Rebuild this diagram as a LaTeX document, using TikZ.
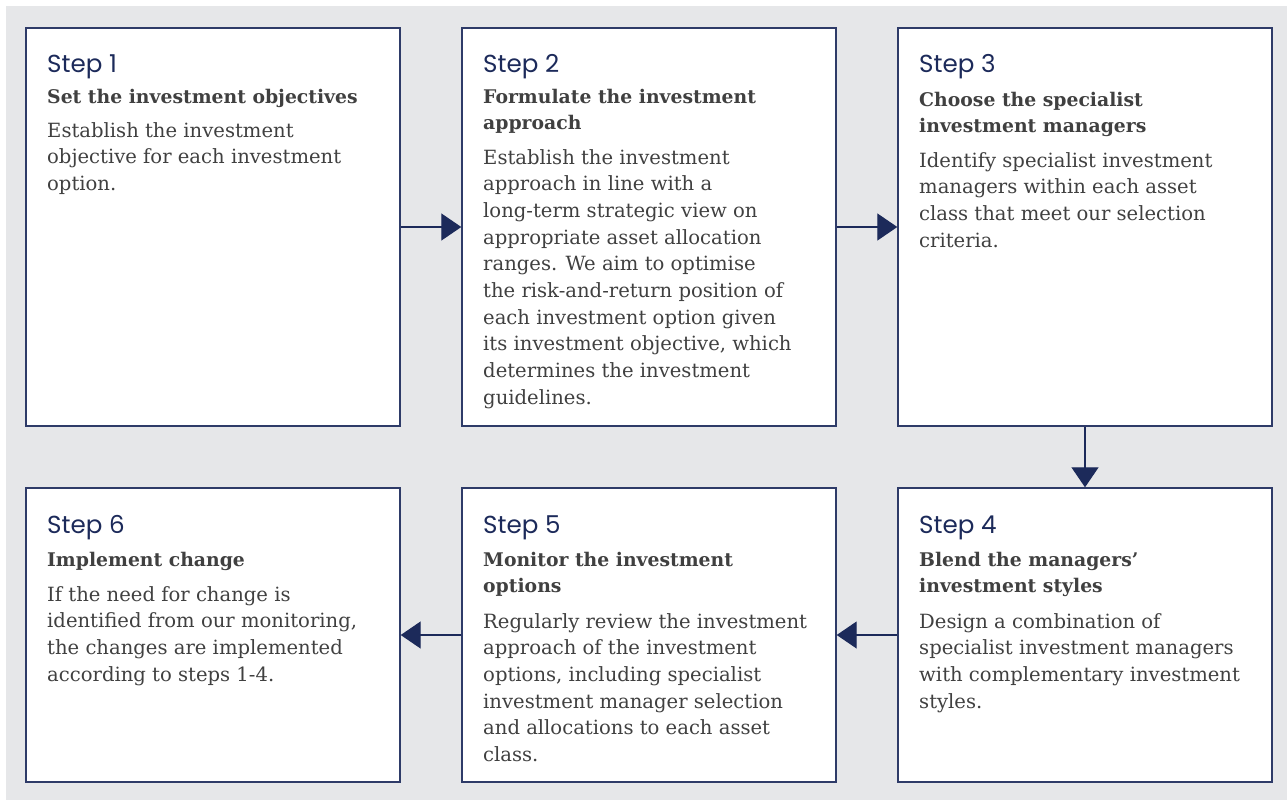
\documentclass[tikz,border=0pt]{standalone}
\usepackage{fontspec}
\usetikzlibrary{arrows.meta}
\setmainfont{DejaVu Serif}
\newfontfamily\stepfont{Poppins}
\newfontfamily\bodyfont{DejaVu Serif}
\definecolor{bggray}{HTML}{E6E7E9}
\definecolor{navy}{HTML}{1C2A5A}
\definecolor{boxline}{HTML}{2E3B68}
\definecolor{txt}{HTML}{404040}
\newcommand{\mylines}[2]{\vtop{\hsize=600pt\parindent=0pt\parskip=0pt\baselineskip=#1pt\lineskiplimit=-100pt\lineskip=0pt\leavevmode #2\par}}
\tikzset{
  box/.style={draw=boxline, line width=1.4pt, fill=white, minimum width=374pt, inner sep=0pt},
  steplabel/.style={anchor=base west, inner sep=0pt, text=navy, font=\stepfont\fontsize{24.6}{28}\selectfont},
  titlelabel/.style={anchor=base west, inner sep=0pt, text=txt, font=\bodyfont\bfseries\fontsize{18.8}{26}\selectfont},
  bodylabel/.style={anchor=base west, inner sep=0pt, text=txt, font=\bodyfont\fontsize{19.6}{26.7}\selectfont},
  arr/.style={draw=navy, line width=1.3pt, -{Triangle[length=20pt,width=27pt]}, shorten >=0pt}
}
\begin{document}
\begin{tikzpicture}[x=1pt,y=-1pt]
\useasboundingbox (0,0) rectangle (1287,800);
\fill[bggray] (6,6) rectangle (1287,800);
% boxes
\node[box, minimum height=398pt] (b1) at (213,227) {};
\node[box, minimum height=398pt] (b2) at (649,227) {};
\node[box, minimum height=398pt] (b3) at (1085,227) {};
\node[box, minimum height=294pt] (b6) at (213,635) {};
\node[box, minimum height=294pt] (b5) at (649,635) {};
\node[box, minimum height=294pt] (b4) at (1085,635) {};
% arrows
\draw[arr] (b1.east) -- (b2.west);
\draw[arr] (b2.east) -- (b3.west);
\draw[arr] (b3.south) -- (b4.north);
\draw[arr] (b4.west) -- (b5.east);
\draw[arr] (b5.west) -- (b6.east);
% box 1
\node[steplabel] (s1) at (47,73) {Step 1};
\node[titlelabel] (t1) at (47,103) {\mylines{26}{Set the investment objectives}};
\node[bodylabel] (d1) at (47,137) {\mylines{26.7}{Establish the investment\\objective for each investment\\option.}};
% box 2
\node[steplabel] (s2) at (483,73) {Step 2};
\node[titlelabel] (t2) at (483,103) {\mylines{26}{Formulate the investment\\approach}};
\node[bodylabel] (d2) at (483,164) {\mylines{26.7}{Establish the investment\\approach in line with a\\long-term strategic view on\\appropriate asset allocation\\ranges. We aim to optimise\\the risk-and-return position of\\each investment option given\\its investment objective, which\\determines the investment\\guidelines.}};
% box 3
\node[steplabel] (s3) at (919,73) {Step 3};
\node[titlelabel] (t3) at (919,106) {\mylines{26}{Choose the specialist\\investment managers}};
\node[bodylabel] (d3) at (919,167) {\mylines{26.7}{Identify specialist investment\\managers within each asset\\class that meet our selection\\criteria.}};
% box 6
\node[steplabel] (s6) at (47,533) {Step 6};
\node[titlelabel] (t6) at (47,566) {\mylines{26}{Implement change}};
\node[bodylabel] (d6) at (47,601) {\mylines{26.7}{If the need for change is\\identified from our monitoring,\\the changes are implemented\\according to steps 1-4.}};
% box 5
\node[steplabel] (s5) at (483,533) {Step 5};
\node[titlelabel] (t5) at (483,566) {\mylines{26}{Monitor the investment\\options}};
\node[bodylabel] (d5) at (483,628) {\mylines{26.7}{Regularly review the investment\\approach of the investment\\options, including specialist\\investment manager selection\\and allocations to each asset\\class.}};
% box 4
\node[steplabel] (s4) at (919,533) {Step 4};
\node[titlelabel] (t4) at (919,566) {\mylines{26}{Blend the managers’\\investment styles}};
\node[bodylabel] (d4) at (919,628) {\mylines{26.7}{Design a combination of\\specialist investment managers\\with complementary investment\\styles.}};
\end{tikzpicture}
\end{document}
